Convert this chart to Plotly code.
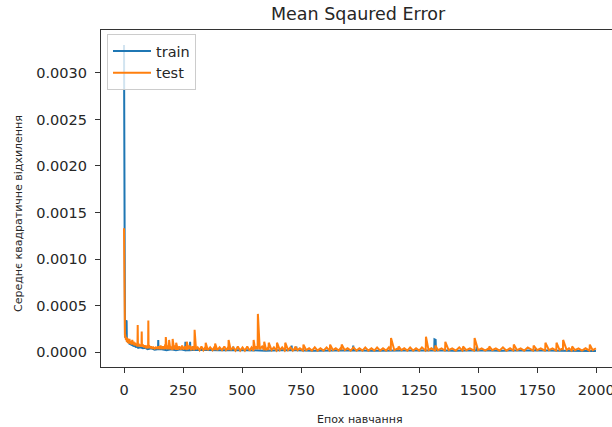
import plotly.graph_objects as go

# ---- data (MSE values given in units of 1e-5) ----
train_epochs = [0, 1, 2, 3, 4, 5, 6, 8, 9, 11, 12, 14, 17, 20, 24, 28, 32, 36, 40, 45, 50, 55, 60, 70, 80, 90,
                100, 115, 130, 144, 145, 146, 160, 180, 200, 220, 240, 259, 260, 261, 279, 280, 281, 300, 350,
                400, 462, 463, 464, 520, 600, 660, 709, 710, 711, 729, 730, 731, 800, 900, 970, 971, 972, 1050,
                1150, 1250, 1314, 1315, 1320, 1321, 1400, 1493, 1494, 1495, 1600, 1700, 1744, 1745, 1746, 1850,
                1999]
train_mse_e5 = [330, 30, 22, 25, 18, 20, 15, 33, 14, 34, 12, 14, 10, 12, 8, 10, 7, 9, 6, 8, 5, 7, 4.5, 5, 4, 4.5,
                3, 4, 2.5, 3, 13, 3, 3, 2, 3, 2, 3, 2, 11, 2, 2, 11, 2, 2.5, 2,
                2, 2, 6, 2, 2, 1.5, 2, 2, 7, 2, 2, 6, 2, 1.5, 1.5, 2, 7, 2, 1.5,
                1.5, 1.5, 2, 13.6, 13, 2, 1.5, 2, 6, 2, 1.5, 1.5, 2, 4, 2, 1.5,
                1]

test_epochs = [0, 1, 2, 3, 4, 5, 6, 7, 8, 10, 12, 14, 16, 18, 20, 23, 26, 29, 32, 35, 38, 41, 44, 47, 50, 53,
               56, 57, 58, 59, 62, 65, 68, 71, 74, 75, 76, 80, 84, 88, 92, 96, 100, 102, 103, 104, 108, 112,
               116, 120, 125, 130, 135, 140, 145, 150, 155, 160, 165, 170, 175, 176, 177, 182, 187, 190, 191,
               196, 200, 204, 205, 206, 212, 216, 220, 221, 228, 234, 240, 246, 252, 258, 264, 265, 266, 272,
               278, 284, 290, 296, 297, 298, 299, 305, 312, 320, 328, 336, 344, 345, 346, 355, 365, 375, 384,
               385, 386, 395, 405, 415, 425, 432, 441, 442, 443, 452, 462, 472, 482, 492, 502, 512, 522, 532,
               540, 547, 548, 549, 555, 560, 565, 566, 567, 575, 585, 592, 593, 594, 602, 611, 612, 613, 625,
               635, 646, 647, 648, 660, 670, 681, 682, 683, 695, 705, 715, 723, 724, 725, 735, 745, 758, 759,
               760, 772, 784, 796, 808, 820, 832, 845, 858, 871, 872, 873, 885, 897, 909, 920, 921, 922, 935,
               947, 960, 972, 985, 997, 1010, 1022, 1035, 1048, 1060, 1072, 1085, 1097, 1110, 1122, 1129, 1130,
               1131, 1145, 1161, 1162, 1163, 1175, 1187, 1200, 1212, 1225, 1237, 1250, 1262, 1277, 1278, 1279,
               1290, 1302, 1317, 1318, 1319, 1330, 1345, 1359, 1360, 1361, 1375, 1390, 1405, 1420, 1434, 1435,
               1436, 1450, 1465, 1483, 1484, 1485, 1500, 1515, 1530, 1545, 1546, 1547, 1560, 1575, 1590, 1605,
               1620, 1635, 1649, 1650, 1651, 1665, 1680, 1695, 1710, 1733, 1734, 1735, 1750, 1765, 1783, 1784,
               1785, 1800, 1815, 1830, 1831, 1832, 1845, 1858, 1859, 1860, 1875, 1885, 1896, 1897, 1898, 1910,
               1925, 1940, 1955, 1971, 1972, 1973, 1985, 1999]
test_mse_e5 = [133, 27, 20, 24, 16, 19, 14, 17, 13, 16, 11, 15, 10, 13, 9, 14, 9, 12, 8, 13, 8, 11, 7, 10, 7, 9,
               6, 7, 29, 7, 9, 6, 8, 6, 7, 22, 6, 8, 5, 7, 5, 6, 4, 5, 34, 5, 6, 4,
               6, 4, 5, 3.5, 5, 4, 6, 3, 7, 3, 6, 3, 8, 3, 16, 3, 7, 3, 13, 3,
               6, 2.5, 3, 14, 3, 7, 2.5, 10, 2.5, 6, 2.5, 7, 2.5, 6, 2.5, 3, 11, 3, 7,
               2, 6, 2, 2.5, 3, 24, 3, 5, 2, 6, 2, 5, 2, 10, 2, 5, 2, 6, 2,
               9, 2, 5, 2, 6, 2, 5, 2, 13, 2, 5, 1.5, 6, 1.5, 5, 1.5, 6, 1.5, 5,
               2, 2, 13, 3, 6, 3, 3, 41, 3, 6, 2, 2, 11, 2, 5, 2, 10, 2, 5,
               1.5, 2, 10, 2, 5, 1.5, 2, 10, 2, 5, 1.5, 4, 2, 6, 2, 4, 1.5, 2, 8,
               2, 4, 1.5, 5, 1.5, 4, 1.5, 5, 1.5, 2, 8, 2, 4, 1.5, 5, 2, 8, 2, 4,
               1.5, 5, 1.5, 4, 1.5, 5, 1.5, 4, 1.5, 5, 1.5, 4, 1.5, 5, 1.5, 2, 15,
               2, 4, 2, 6, 2, 4, 1.5, 5, 1.5, 4, 1.5, 5, 1.5, 2, 16.5, 2,
               4, 1.5, 2, 7, 2, 4, 1.5, 2, 11, 2, 4, 1.5, 5, 1.5, 2, 6,
               2, 4, 1.5, 2, 15, 2, 4, 1.5, 4, 2, 6, 2, 4, 1.5, 5, 1.5,
               4, 1.5, 2, 8, 2, 4, 1.5, 5, 1.5, 2, 7, 2, 4, 1.5, 2, 10,
               2, 4, 1.5, 2, 10, 2, 4, 2, 13, 2, 4, 1.5, 2, 6, 2, 4,
               1.5, 4, 1.5, 2, 8, 2, 4, 1.5]

x_ticks = [0, 250, 500, 750, 1000, 1250, 1500, 1750, 2000]
y_ticks = [0.0, 0.0005, 0.0010, 0.0015, 0.0020, 0.0025, 0.0030]

title_text = "Mean Sqaured Error"
x_label = "Епох навчання"
y_label = "Середнє квадратичне відхилення"
series_names = ["train", "test"]

SCALE = 1e-5
FONT = "DejaVu Sans"
TXT = "#262626"

fig = go.Figure()
fig.add_trace(go.Scatter(x=train_epochs, y=[v * SCALE for v in train_mse_e5], mode="lines",
                         name=series_names[0], line=dict(color="#1f77b4", width=2)))
fig.add_trace(go.Scatter(x=test_epochs, y=[v * SCALE for v in test_mse_e5], mode="lines",
                         name=series_names[1], line=dict(color="#ff7f0e", width=2)))

axis_common = dict(showgrid=False, zeroline=False, showline=True, linecolor="#333333", linewidth=1.2,
                   ticks="outside", ticklen=5, tickwidth=1.1, tickcolor="#333333", automargin=False,
                   ticklabeloverflow="allow",
                   tickfont=dict(family=FONT, size=14.5, color=TXT))

fig.update_xaxes(range=[-97.5, 2067], tickvals=x_ticks, ticktext=[str(t) for t in x_ticks],
                 mirror=True, ticklabelstandoff=4, **axis_common)
fig.update_yaxes(range=[-0.000161, 0.003462], tickvals=y_ticks, ticktext=[f"{t:.4f}" for t in y_ticks],
                 mirror=False, ticklabelstandoff=5, **axis_common)

L, R, T, B = 101, 0, 30, 60
W, H = 612, 427
plot_w = W - L - R
plot_h = H - T - B


def px_to_paper(px, py):
    return (px - L) / plot_w, (H - B - py) / plot_h


ann_specs = [
    (title_text, 358, 14, 17.5, 0),
    (x_label, 360, 419, 11, 0),
    (y_label, 18, 214, 11, -90),
]
annotations = []
for text, px, py, size, angle in ann_specs:
    ax, ay = px_to_paper(px, py)
    annotations.append(dict(text=text, x=ax, y=ay, xref="paper", yref="paper", showarrow=False,
                            textangle=angle, xanchor="center", yanchor="middle",
                            font=dict(family=FONT, size=size, color=TXT)))

lx, ly = px_to_paper(107, 34)
fig.update_layout(
    width=W, height=H,
    margin=dict(l=L, r=R, t=T, b=B, pad=0),
    paper_bgcolor="white", plot_bgcolor="white",
    showlegend=True,
    legend=dict(x=lx, y=ly, xanchor="left", yanchor="top",
                bgcolor="rgba(255,255,255,0.8)", bordercolor="#cccccc", borderwidth=1,
                font=dict(family=FONT, size=14.5, color=TXT), itemwidth=38,
                tracegroupgap=0),
    annotations=annotations,
)

fig.write_html("out.html", config={"displayModeBar": False},
               post_script="document.body.style.margin='0';document.body.style.overflow='hidden';")
